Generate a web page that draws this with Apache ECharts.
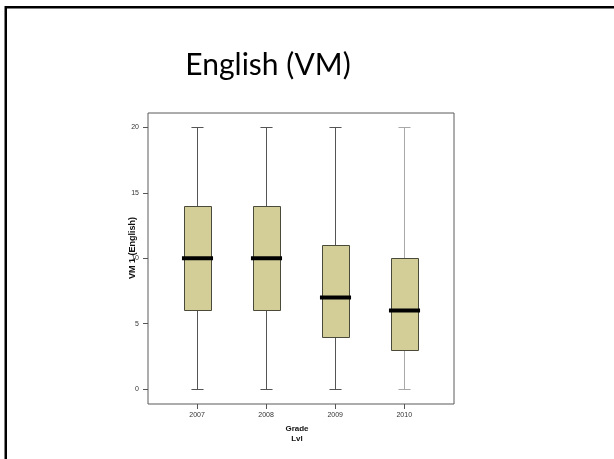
<!DOCTYPE html>
<html>
<head>
<meta charset="utf-8">
<script src="https://cdn.jsdelivr.net/npm/echarts@6/dist/echarts.min.js"></script>
<style>
  html, body { margin: 0; padding: 0; background: #fff; }
  #chart { width: 614px; height: 459px; }
</style>
</head>
<body>
<div id="chart"></div>
<script>
// Grade levels on the x axis
const categories = ['2007', '2008', '2009', '2010'];
// Five-number summaries for VM 1 (English) per grade level
const lowWhisker  = [0, 0, 0, 0];
const lowerQuart  = [6, 6, 4, 3];
const medians     = [10, 10, 7, 6];
const upperQuart  = [14, 14, 11, 10];
const highWhisker = [20, 20, 20, 20];
// Y tick values
const yTicks = [0, 5, 10, 15, 20];

const boxData = categories.map((c, i) => [i, lowWhisker[i], lowerQuart[i], medians[i], upperQuart[i], highWhisker[i]]);

const whiskerColor = i => (i === 3 ? '#a8a8a8' : '#555555');

function renderBox(params, api) {
  const i = api.value(0);
  const unit = api.size([1, 0])[0];
  const boxW = unit * 0.395;
  const capW = unit * 0.175;
  const medW = unit * 0.45;
  const px = api.coord([i, 0])[0];
  const cx = Math.round(px) + 0.5;
  const y = k => Math.round(api.coord([i, api.value(k)])[1]) + 0.5;
  const yMin = y(1), yQ1 = y(2), yMed = api.coord([i, api.value(3)])[1], yQ3 = y(4), yMax = y(5);
  const wc = whiskerColor(i);
  const lineStyle = { stroke: wc, lineWidth: 1 };
  return {
    type: 'group',
    children: [
      { type: 'line', shape: { x1: cx, y1: yMax, x2: cx, y2: yQ3 }, style: lineStyle },
      { type: 'line', shape: { x1: cx, y1: yQ1, x2: cx, y2: yMin }, style: lineStyle },
      { type: 'line', shape: { x1: cx - capW / 2, y1: yMax, x2: cx + capW / 2, y2: yMax }, style: lineStyle },
      { type: 'line', shape: { x1: cx - capW / 2, y1: yMin, x2: cx + capW / 2, y2: yMin }, style: lineStyle },
      {
        type: 'rect',
        shape: { x: Math.round(cx - boxW / 2) + 0.5, y: yQ3, width: Math.round(boxW), height: yQ1 - yQ3 },
        style: { fill: '#d3ce98', stroke: '#4a4a3a', lineWidth: 1 }
      },
      {
        type: 'line',
        shape: { x1: cx - medW / 2, y1: yMed, x2: cx + medW / 2, y2: yMed },
        style: { stroke: '#000', lineWidth: 4 }
      }
    ]
  };
}

const chart = echarts.init(document.getElementById('chart'), null, { renderer: 'canvas' });
chart.setOption({
  backgroundColor: '#fff',
  animation: false,
  title: {
    text: 'English (VM)',
    left: 263,
    top: 45,
    textAlign: 'center',
    textStyle: { fontFamily: 'Lato', fontWeight: 'normal', fontSize: 30, color: '#000' }
  },
  grid: {
    left: 148, top: 113, right: 160, bottom: 55,
    show: true, borderColor: '#5a5a5a', borderWidth: 1, backgroundColor: '#fff'
  },
  xAxis: {
    type: 'value',
    min: -0.71, max: 3.72,
    splitLine: { show: false },
    axisLine: { show: false, onZero: false },
    axisTick: { show: true, length: 5, lineStyle: { color: '#555' }, customValues: [0, 1, 2, 3] },
    axisLabel: {
      customValues: [0, 1, 2, 3],
      formatter: v => categories[Math.round(v)],
      fontFamily: 'Liberation Sans', fontSize: 7, color: '#333', margin: 8
    },
    name: 'Grade\nLvl',
    nameLocation: 'middle',
    nameGap: 15,
    nameTextStyle: {
      fontFamily: 'Liberation Sans', fontWeight: 'bold', fontSize: 8, color: '#111',
      lineHeight: 10, padding: [0, 8, 0, 0]
    }
  },
  yAxis: {
    type: 'value',
    min: -1.15, max: 21.1,
    splitLine: { show: false },
    axisLine: { show: false, onZero: false },
    axisTick: { show: true, length: 5, lineStyle: { color: '#555' }, customValues: yTicks },
    axisLabel: {
      customValues: yTicks,
      fontFamily: 'Liberation Sans', fontSize: 7, color: '#333', margin: 9
    }
  },
  graphic: [
    {
      type: 'text',
      x: 133, y: 248,
      rotation: Math.PI / 2,
      style: {
        text: 'VM 1 (English)',
        font: 'bold 9px "Liberation Sans"',
        fill: '#111',
        align: 'center',
        verticalAlign: 'middle'
      }
    },
    {
      type: 'polyline',
      shape: { points: [[5.75, 459], [5.75, 7.25], [614, 7.25]] },
      style: { stroke: '#000', lineWidth: 2.5, fill: null }
    }
  ],
  series: [{
    type: 'custom',
    renderItem: renderBox,
    data: boxData,
    encode: { x: 0, y: [1, 2, 3, 4, 5] }
  }]
});
</script>
</body>
</html>
